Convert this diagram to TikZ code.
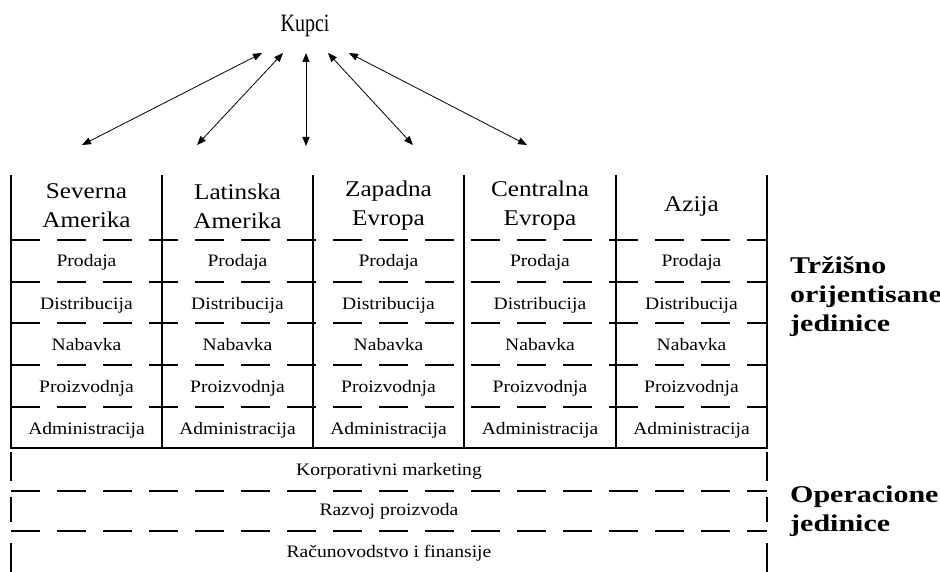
\documentclass[tikz,border=0pt]{standalone}
\usepackage{fontspec}
\setmainfont[FakeStretch=1.12]{Liberation Serif}
\newfontfamily\kupcifont[FakeStretch=0.8]{Liberation Serif}
\newfontfamily\labelfont[FakeStretch=1.25]{Liberation Serif}
\usetikzlibrary{arrows.meta}
\begin{document}
\begin{tikzpicture}[x=1pt,y=-1pt,
  solidline/.style={line width=1.6pt},
  dashline/.style={line width=1.6pt, dash pattern=on 29pt off 17pt},
  arr/.style={{Triangle[length=9pt,width=7pt]}-{Triangle[length=9pt,width=7pt]}, line width=0.8pt},
  headtext/.style={font=\fontsize{22.5}{29}\selectfont, align=center, inner sep=0pt},
  celltext/.style={font=\fontsize{17.5}{21}\selectfont, anchor=base, inner sep=0pt},
  unittext/.style={font=\labelfont\bfseries\fontsize{24}{29}\selectfont, align=left, anchor=west, inner sep=0pt}]
\useasboundingbox (0,0) rectangle (940,572);

% Kupci and arrows
\node[font=\kupcifont\fontsize{25}{30}\selectfont, anchor=base, inner sep=0pt] (kupci) at (305,32) {Kupci};
\coordinate (a1) at (262,53); \coordinate (b1) at (82,145);
\coordinate (a2) at (283,53); \coordinate (b2) at (197,145);
\coordinate (a3) at (306,53); \coordinate (b3) at (306,146);
\coordinate (a4) at (328,53); \coordinate (b4) at (413,145);
\coordinate (a5) at (349,53); \coordinate (b5) at (527,145);
\foreach \i in {1,...,5}{\draw[arr] (a\i) -- (b\i);}

% column grid
\foreach \y in {240,282,323,365,407}{\draw[dashline] (11,\y) -- (767,\y);}
\foreach \x in {11,162,313,464,616,767}{\draw[solidline] (\x,175) -- (\x,448);}
\draw[solidline] (10.2,448) -- (767.8,448);

% headers
\node[headtext] (h1) at (86.5,206) {Severna\\Amerika};
\node[headtext] (h2) at (237.5,206) {Latinska\\Amerika};
\node[headtext] (h3) at (388.5,206) {Zapadna\\Evropa};
\node[headtext] (h4) at (540,206) {Centralna\\Evropa};
\node[headtext] (h5) at (691.5,206) {Azija};

% cells
\foreach \x [count=\c] in {86.5,237.5,388.5,540,691.5}{
  \node[celltext] (p\c) at (\x,267) {Prodaja};
  \node[celltext] (d\c) at (\x,309) {Distribucija};
  \node[celltext] (n\c) at (\x,350) {Nabavka};
  \node[celltext] (z\c) at (\x,392) {Proizvodnja};
  \node[celltext] (ad\c) at (\x,434) {Administracija};
}

% operational units
\draw[dashline] (11,491) -- (767,491);
\draw[dashline] (11,531) -- (767,531);
\foreach \x in {11,767}{
  \draw[solidline] (\x,452) -- (\x,481);
  \draw[solidline] (\x,497) -- (\x,522);
  \draw[solidline] (\x,543) -- (\x,572);
}
\node[celltext] (km) at (389,475) {Korporativni marketing};
\node[celltext] (rp) at (389,515) {Razvoj proizvoda};
\node[celltext] (rf) at (389,557) {Računovodstvo i finansije};

% side labels
\node[unittext] (tr) at (790,297) {Tržišno\\orijentisane\\jedinice};
\node[unittext] (op) at (790,511) {Operacione\\jedinice};
\end{tikzpicture}
\end{document}
